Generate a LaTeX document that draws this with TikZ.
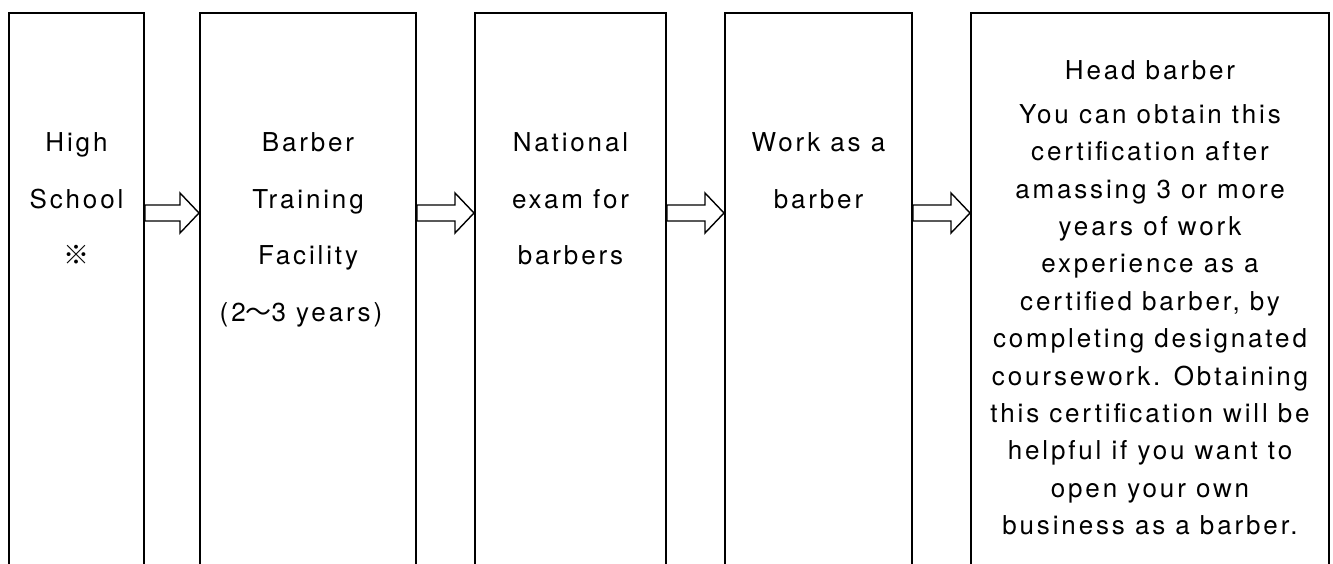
\documentclass[tikz,border=0pt]{standalone}
\usepackage{fontspec}
\setmainfont{TeX Gyre Heros}[LetterSpace=11]
\newfontfamily\jp{Noto Sans CJK JP}
\usetikzlibrary{calc}
\newcommand\blockarr[3]{%
  \draw[arr] ($(#1.east|-0,#3)+(0,-8)$) -- ($(#2.west|-0,#3)+(-19,-8)$) -- ++(0,-12)
    -- ($(#2.west|-0,#3)$) -- ($(#2.west|-0,#3)+(-19,20)$) -- ++(0,-12)
    -- ($(#1.east|-0,#3)+(0,8)$) -- cycle;}
\begin{document}
\begin{tikzpicture}[x=1pt,y=-1pt,
  box/.style={draw, line width=2pt, minimum height=700pt, anchor=north west, inner sep=0pt},
  lbl/.style={align=center, anchor=north, font=\fontsize{26}{56.5}\selectfont, inner sep=0pt},
  body/.style={align=center, font=\fontsize{26}{37.4}\selectfont, inner sep=0pt},
  arr/.style={draw, line width=1.4pt, fill=white, line join=miter}]
\useasboundingbox (0,0) rectangle (1333,563);
\clip (0,0) rectangle (1333,563);
\node[box, minimum width=135pt] (b1) at (8,11.5) {};
\node[box, minimum width=216pt] (b2) at (199,11.5) {};
\node[box, minimum width=191pt] (b3) at (474,11.5) {};
\node[box, minimum width=187pt] (b4) at (724,11.5) {};
\node[box, minimum width=358pt] (b5) at (970,11.5) {};
\node[lbl] (t1) at (b1.north |- 0,112) {\strut High\\\strut School\\\strut{\jp ※}};
\node[lbl] (t2) at (b2.north |- 0,112) {\strut Barber\\\strut Training\\\strut Facility\\\strut(2{\jp 〜}3 years)\hspace*{14pt}};
\node[lbl] (t3) at (b3.north |- 0,112) {\strut National\\\strut exam for\\\strut barbers};
\node[lbl] (t4) at (b4.north |- 0,112) {\strut Work as a\\\strut barber};
\node[body] (t5h) at (b5.north |- 0,72) {\strut Head barber};
\node[body] (t5) at (b5.north |- 0,321.5) {\strut You can obtain this\\\strut certification after\\\strut amassing 3 or more\\\strut years of work\\\strut experience as a\\\strut certified barber, by\\\strut completing designated\\\strut coursework. Obtaining\\\strut this certification will be\\\strut helpful if you want to\\\strut open your own\\\strut business as a barber.};
\blockarr{b1}{b2}{213}
\blockarr{b2}{b3}{213}
\blockarr{b3}{b4}{213}
\blockarr{b4}{b5}{213}
\end{tikzpicture}
\end{document}
